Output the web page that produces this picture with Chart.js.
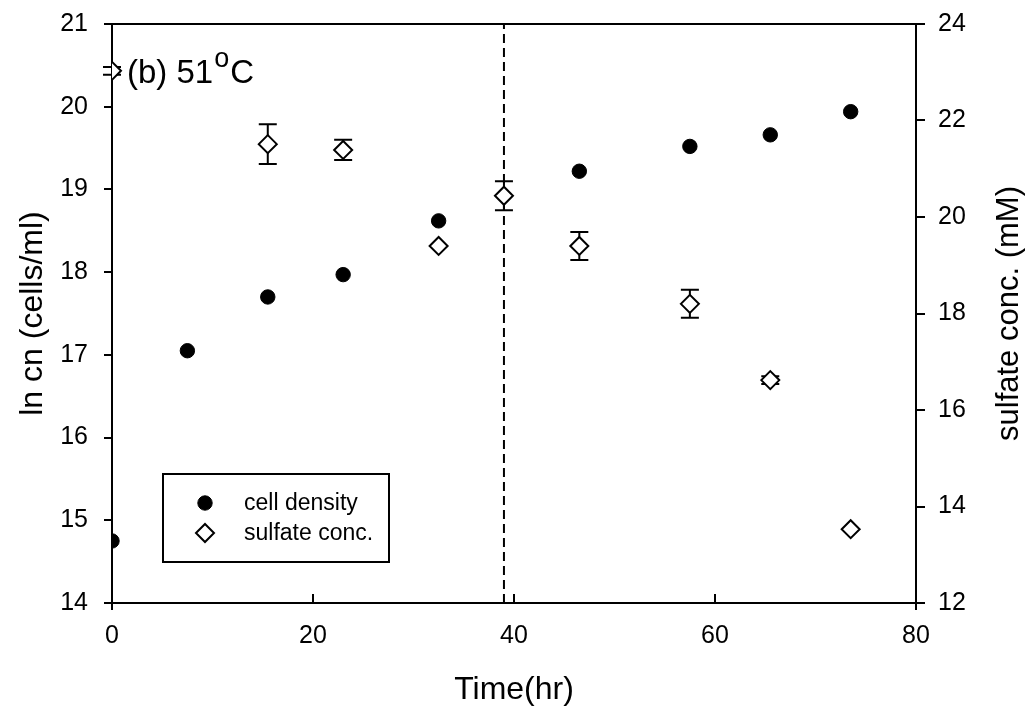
<!DOCTYPE html>
<html>
<head>
<meta charset="utf-8">
<script src="https://cdn.jsdelivr.net/npm/chart.js@4.4.1/dist/chart.umd.min.js"></script>
<style>
  body { margin: 0; background: #fff; }
  canvas { display: block; }
</style>
</head>
<body>
<canvas id="growthChart" width="1028" height="713"></canvas>
<script>
// data
var cellTime = [0, 7.5, 15.5, 23, 32.5, 46.5, 57.5, 65.5, 73.5];
var cellDensity = [14.75, 17.05, 17.70, 17.97, 18.62, 19.22, 19.52, 19.66, 19.94];

var sulfateTime = [0, 15.5, 23, 32.5, 39, 46.5, 57.5, 65.5, 73.5];
var sulfateConc = [23.03, 21.51, 21.39, 19.40, 20.44, 19.40, 18.20, 16.62, 13.53];
var sulfateErr = [0.08, 0.41, 0.21, 0, 0.30, 0.29, 0.29, 0.08, 0];

var markerTime = 39; // dashed vertical line

var FONT = "'Liberation Sans', Arial, sans-serif";

// x/y pairs for the library
var cellPoints = cellTime.map(function (t, i) { return { x: t, y: cellDensity[i] }; });
var sulfatePoints = sulfateTime.map(function (t, i) { return { x: t, y: sulfateConc[i] }; });

// error bars under the diamonds
var errorBars = {
    id: 'errorBars',
    beforeDatasetsDraw: function (chart) {
        var ctx = chart.ctx;
        var xs = chart.scales.x, ys = chart.scales.y2;
        ctx.save();
        ctx.strokeStyle = '#000';
        ctx.lineWidth = 2;
        sulfateTime.forEach(function (t, i) {
            if (!sulfateErr[i]) return;
            var px = xs.getPixelForValue(t);
            var top = ys.getPixelForValue(sulfateConc[i] + sulfateErr[i]);
            var bot = ys.getPixelForValue(sulfateConc[i] - sulfateErr[i]);
            ctx.beginPath();
            ctx.moveTo(px, top); ctx.lineTo(px, bot);
            ctx.moveTo(px - 9, top); ctx.lineTo(px + 9, top);
            ctx.moveTo(px - 9, bot); ctx.lineTo(px + 9, bot);
            ctx.stroke();
        });
        ctx.restore();
    }
};

// frame top, inward x ticks, panel title, right axis title, boxed legend
var decorations = {
    id: 'decorations',
    afterDraw: function (chart) {
        var ctx = chart.ctx;
        var area = chart.chartArea;
        var xs = chart.scales.x;
        ctx.save();
        ctx.strokeStyle = '#000';
        ctx.lineWidth = 2;

        // top line of the frame
        ctx.beginPath();
        ctx.moveTo(area.left - 1, area.top);
        ctx.lineTo(area.right + 1, area.top);
        ctx.stroke();

        // x ticks point inward, ends cross the axis
        xs.ticks.forEach(function (tk) {
            var px = xs.getPixelForValue(tk.value);
            ctx.beginPath();
            if (tk.value === xs.min || tk.value === xs.max) {
                ctx.moveTo(px, area.bottom - 8);
                ctx.lineTo(px, area.bottom + 7);
            } else {
                ctx.moveTo(px, area.bottom);
                ctx.lineTo(px, area.bottom - 9);
            }
            ctx.stroke();
        });

        // panel label (b) 51°C
        ctx.fillStyle = '#000';
        ctx.textBaseline = 'alphabetic';
        ctx.textAlign = 'left';
        ctx.font = '33px ' + FONT;
        var tx = 127, ty = 83;
        ctx.fillText('(b) 51', tx, ty);
        tx += ctx.measureText('(b) 51').width + 1;
        ctx.font = '27px ' + FONT;
        ctx.fillText('o', tx, ty - 16);
        tx += ctx.measureText('o').width + 1;
        ctx.font = '33px ' + FONT;
        ctx.fillText('C', tx, ty);

        // right axis title reads bottom to top
        ctx.save();
        ctx.translate(1009, (area.top + area.bottom) / 2);
        ctx.rotate(-Math.PI / 2);
        ctx.font = '31px ' + FONT;
        ctx.textAlign = 'center';
        ctx.textBaseline = 'middle';
        ctx.fillText('sulfate conc. (mM)', 0, 0);
        ctx.restore();

        // legend box
        ctx.strokeRect(163, 474, 226, 88);
        ctx.font = '23px ' + FONT;
        ctx.textBaseline = 'middle';
        ctx.textAlign = 'left';
        [0, 1].forEach(function (k) {
            var ds = chart.data.datasets[k];
            var y = 503 + k * 30;
            ctx.fillStyle = ds.backgroundColor;
            ctx.strokeStyle = ds.borderColor;
            ctx.lineWidth = ds.borderWidth;
            Chart.helpers.drawPoint(ctx, {
                pointStyle: ds.pointStyle,
                radius: ds.pointRadius,
                borderWidth: ds.borderWidth,
                rotation: 0
            }, 205, y);
            ctx.fillStyle = '#000';
            ctx.fillText(ds.label, 244, y + 1);
        });
        ctx.restore();
    }
};

var ctx = document.getElementById('growthChart').getContext('2d');

new Chart(ctx, {
    type: 'scatter',
    data: {
        datasets: [{
            label: 'cell density',
            data: cellPoints,
            yAxisID: 'y',
            pointStyle: 'circle',
            pointRadius: 7.2,
            backgroundColor: '#000',
            borderColor: '#000',
            borderWidth: 1,
            order: 1
        }, {
            label: 'sulfate conc.',
            data: sulfatePoints,
            yAxisID: 'y2',
            pointStyle: 'rectRot',
            pointRadius: 9,
            backgroundColor: '#fff',
            borderColor: '#000',
            borderWidth: 2,
            order: 2
        }, {
            label: 'marker',
            type: 'line',
            data: [{ x: markerTime, y: 14 }, { x: markerTime, y: 21 }],
            yAxisID: 'y',
            borderColor: '#000',
            borderWidth: 2,
            borderDash: [9, 5],
            pointRadius: 0,
            fill: false,
            order: 3
        }]
    },
    options: {
        responsive: false,
        animation: false,
        devicePixelRatio: 1,
        layout: { padding: { top: 24, left: 0, right: 0, bottom: 0 } },
        plugins: {
            legend: { display: false },
            tooltip: { enabled: false }
        },
        scales: {
            x: {
                type: 'linear',
                min: 0,
                max: 80,
                ticks: {
                    stepSize: 20,
                    color: '#000',
                    padding: 18,
                    font: { family: FONT, size: 25 }
                },
                grid: { display: true, drawOnChartArea: false, drawTicks: false },
                border: { display: true, color: '#000', width: 2 },
                title: {
                    display: true,
                    text: 'Time(hr)',
                    color: '#000',
                    padding: { top: 0, bottom: 4 },
                    font: { family: FONT, size: 32 }
                },
                afterFit: function (scale) {
                    scale.height = 110;
                    scale.paddingLeft = 0;
                    scale.paddingRight = 0;
                }
            },
            y: {
                type: 'linear',
                position: 'left',
                min: 14,
                max: 21,
                ticks: {
                    stepSize: 1,
                    color: '#000',
                    padding: 16,
                    font: { family: FONT, size: 25 }
                },
                grid: { display: true, drawOnChartArea: false, drawTicks: true, tickLength: 8, color: '#000', lineWidth: 2 },
                border: { display: true, color: '#000', width: 2 },
                title: {
                    display: true,
                    text: 'ln cn (cells/ml)',
                    color: '#000',
                    padding: { top: 14, bottom: 0 },
                    font: { family: FONT, size: 32 }
                },
                afterFit: function (scale) {
                    scale.width = 112;
                    scale.paddingTop = 0;
                    scale.paddingBottom = 0;
                }
            },
            y2: {
                type: 'linear',
                position: 'right',
                min: 12,
                max: 24,
                ticks: {
                    stepSize: 2,
                    color: '#000',
                    padding: 13,
                    font: { family: FONT, size: 25 }
                },
                grid: { display: true, drawOnChartArea: false, drawTicks: true, tickLength: 9, color: '#000', lineWidth: 2 },
                border: { display: true, color: '#000', width: 2 },
                afterFit: function (scale) {
                    scale.width = 112;
                    scale.paddingTop = 0;
                    scale.paddingBottom = 0;
                }
            }
        }
    },
    plugins: [errorBars, decorations]
});
</script>
</body>
</html>
